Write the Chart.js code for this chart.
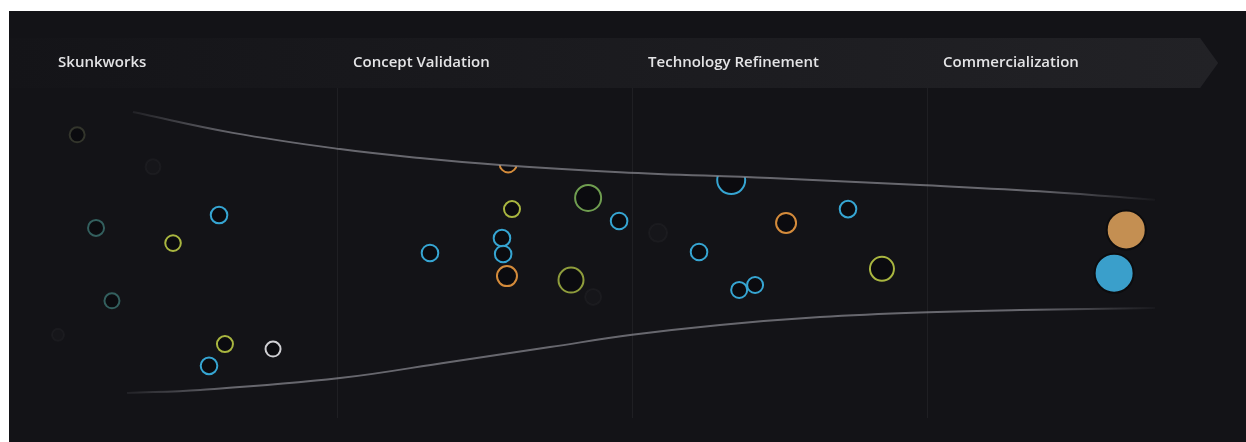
<!DOCTYPE html>
<html><head><meta charset="utf-8">
<script src="https://cdn.jsdelivr.net/npm/chart.js@4.4.1/dist/chart.umd.min.js"></script>
<style>
html,body{margin:0;padding:0;background:#fff;width:1246px;height:442px;overflow:hidden}
#wrap{position:absolute;left:9px;top:11px;width:1237px;height:431px;background:#131317}
</style></head><body><div id="wrap"><canvas id="c"></canvas></div>
<script>
// ---- Stages (x axis categories) ----
const stages = ['Skunkworks', 'Concept Validation', 'Technology Refinement', 'Commercialization'];
const stageStarts = [0, 1, 2, 3];

// ---- Funnel boundaries (stage progress, lane) ----
const upperX = [0.308, 0.647, 1.010, 1.281, 1.553, 1.959, 2.468, 2.976, 3.417, 3.773];
const upperY = [92.7, 86.4, 81.5, 78.8, 76.7, 74.5, 72.7, 70.6, 68.5, 66.1];
const lowerX = [0.288, 0.536, 1.010, 1.383, 1.722, 2.000, 2.298, 2.637, 2.976, 3.315, 3.773];
const lowerY = [7.6, 8.5, 12.1, 17.0, 21.5, 25.2, 28.2, 30.6, 32.0, 32.7, 33.3];

// ---- Ventures by group: stage progress, lane, size ----
const blueX = [0.600, 0.566, 1.315, 1.559, 1.563, 1.956, 2.227, 2.363, 2.417, 2.732, 2.336];
const blueY = [61.5, 15.8, 50.0, 54.5, 49.7, 59.7, 50.3, 38.8, 40.3, 63.3, 72.1];
const blueSize = [8.3, 8.3, 8.3, 8.3, 8.3, 8.3, 8.3, 8, 8, 8.3, 14];

const amberX = [1.580, 1.576, 2.522];
const amberY = [77.0, 43.0, 59.1];
const amberSize = [8.5, 10, 10];

const limeX = [0.444, 0.620, 1.593, 2.847];
const limeY = [53.0, 22.4, 63.3, 45.2];
const limeSize = [7.8, 8, 8, 12];

const greenX = [1.851];
const greenY = [66.7];
const greenSize = [13];

const oliveX = [1.793];
const oliveY = [41.8];
const oliveSize = [12.5];

const tealX = [0.183, 0.237];
const tealY = [57.6, 35.5];
const tealSize = [8, 7.5];

const greyX = [0.783];
const greyY = [20.9];
const greySize = [7.5];

const dormantX = [0.119];
const dormantY = [85.8];
const dormantSize = [7.5];

const ghostX = [0.376, 0.054, 2.088, 1.868];
const ghostY = [76.1, 25.2, 56.1, 36.7];
const ghostSize = [7.5, 6, 9, 8];

const launchedAmberX = [3.675];
const launchedAmberY = [57.0];
const launchedAmberSize = [19.5];

const launchedBlueX = [3.634];
const launchedBlueY = [43.9];
const launchedBlueSize = [19.5];

const X_MIN = -0.112, X_MAX = 4.081;

function pts(xs, ys) { return xs.map((x, i) => ({x: x, y: ys[i]})); }

function ventures(label, xs, ys, sizes, color, fill, bw) {
  return {
    label: label,
    data: pts(xs, ys),
    pointRadius: sizes,
    pointHoverRadius: sizes,
    pointBorderWidth: bw === undefined ? 2 : bw,
    pointBorderColor: color,
    pointBackgroundColor: fill || 'rgba(8,8,10,0.65)',
    showLine: false,
    clipToFunnel: true,
    order: 5
  };
}

function funnelStroke(xs) {
  return function (ctx) {
    const chart = ctx.chart;
    const area = chart.chartArea;
    const sx = chart.scales.x;
    if (!area || !sx) return 'rgba(140,140,146,0.7)';
    const a = sx.getPixelForValue(xs[0]);
    const b = sx.getPixelForValue(xs[xs.length - 1]);
    const g = chart.ctx.createLinearGradient(a, 0, b, 0);
    g.addColorStop(0, 'rgba(140,140,148,0.12)');
    g.addColorStop(0.1, 'rgba(140,140,148,0.7)');
    g.addColorStop(0.88, 'rgba(140,140,148,0.7)');
    g.addColorStop(1, 'rgba(140,140,148,0.05)');
    return g;
  };
}

function boundary(label, xs, ys) {
  return {
    label: label,
    type: 'line',
    data: pts(xs, ys),
    showLine: true,
    pointRadius: 0,
    borderWidth: 2,
    borderColor: funnelStroke(xs),
    tension: 0.4,
    fill: false,
    order: 1
  };
}

const bandPlugin = {
  id: 'stageBand',
  beforeDraw(chart) {
    const {ctx, chartArea, scales} = chart;
    const x = scales.x;
    const top = chartArea.top - 50, bottom = chartArea.top;
    const left = chartArea.left;
    const tip = x.getPixelForValue(stageStarts.length) - 4;
    const rectR = tip - 18;
    const g = ctx.createLinearGradient(left, 0, tip, 0);
    g.addColorStop(0, '#141418');
    g.addColorStop(1, '#222226');
    ctx.save();
    ctx.fillStyle = g;
    ctx.beginPath();
    ctx.moveTo(left, top);
    ctx.lineTo(rectR, top);
    ctx.lineTo(tip, (top + bottom) / 2);
    ctx.lineTo(rectR, bottom);
    ctx.lineTo(left, bottom);
    ctx.closePath();
    ctx.fill();
    ctx.restore();
  }
};

const clipPlugin = {
  id: 'funnelClip',
  beforeDatasetDraw(chart, args) {
    const ds = chart.data.datasets[args.index];
    if (!ds.clipToFunnel) return;
    const area = chart.chartArea;
    const ctx = chart.ctx;
    const line = chart.getDatasetMeta(0).dataset;
    ctx.save();
    ctx.beginPath();
    const points = line.points;
    let ok = false;
    try {
      if (line.updateControlPoints) line.updateControlPoints(area, 'x');
      if (line.path) { line.path(ctx); ok = true; }
    } catch (e) { ok = false; }
    if (!ok) {
      ctx.beginPath();
      points.forEach((p, i) => i ? ctx.lineTo(p.x, p.y) : ctx.moveTo(p.x, p.y));
    }
    const first = points[0], last = points[points.length - 1];
    ctx.lineTo(area.right + 30, last.y);
    ctx.lineTo(area.right + 30, area.bottom + 30);
    ctx.lineTo(area.left - 30, area.bottom + 30);
    ctx.lineTo(area.left - 30, area.top - 30);
    ctx.lineTo(first.x, area.top - 30);
    ctx.closePath();
    ctx.clip();
  },
  afterDatasetDraw(chart, args) {
    const ds = chart.data.datasets[args.index];
    if (!ds.clipToFunnel) return;
    chart.ctx.restore();
  }
};

new Chart(document.getElementById('c'), {
  type: 'scatter',
  data: {
    datasets: [
      boundary('Upper bound', upperX, upperY),
      boundary('Lower bound', lowerX, lowerY),
      ventures('Blue', blueX, blueY, blueSize, '#36a5d2'),
      ventures('Amber', amberX, amberY, amberSize, '#d48b3b'),
      ventures('Lime', limeX, limeY, limeSize, '#a9b640'),
      ventures('Green', greenX, greenY, greenSize, '#6f9d50'),
      ventures('Olive', oliveX, oliveY, oliveSize, '#8e9c3c'),
      ventures('Teal', tealX, tealY, tealSize, '#335f5e'),
      ventures('Grey', greyX, greyY, greySize, '#cfcfd3'),
      ventures('Dormant', dormantX, dormantY, dormantSize, '#33352c'),
      ventures('Ghost', ghostX, ghostY, ghostSize, 'rgba(255,255,255,0.03)', 'rgba(255,255,255,0.015)'),
      ventures('Launched A', launchedAmberX, launchedAmberY, launchedAmberSize, '#0c0c0e', '#c48f52', 2),
      ventures('Launched B', launchedBlueX, launchedBlueY, launchedBlueSize, '#0c0c0e', '#3a9fcb', 2)
    ]
  },
  options: {
    responsive: true,
    maintainAspectRatio: false,
    animation: false,
    layout: {autoPadding: false, padding: {left: 0, right: 0, top: 0, bottom: 24}},
    plugins: {legend: {display: false}, tooltip: {enabled: false}},
    scales: {
      x: {
        type: 'linear',
        position: 'top',
        min: X_MIN,
        max: X_MAX,
        afterBuildTicks: s => { s.ticks = stageStarts.map(v => ({value: v})); },
        afterFit: s => { s.height = 77; s.paddingLeft = 0; s.paddingRight = 0; },
        ticks: {
          callback: (v, i) => stages[i],
          align: 'start',
          labelOffset: 16,
          padding: 16,
          autoSkip: false,
          maxRotation: 0,
          color: '#e4e4e6',
          font: {family: '"Open Sans", sans-serif', size: 15, weight: '600'}
        },
        grid: {
          drawTicks: false,
          lineWidth: 1,
          color: c => (c.tick && c.tick.value > 0) ? 'rgba(255,255,255,0.055)' : 'rgba(0,0,0,0)'
        },
        border: {display: false}
      },
      y: {display: false, min: 0, max: 100}
    }
  },
  plugins: [bandPlugin, clipPlugin]
});
</script></body></html>
